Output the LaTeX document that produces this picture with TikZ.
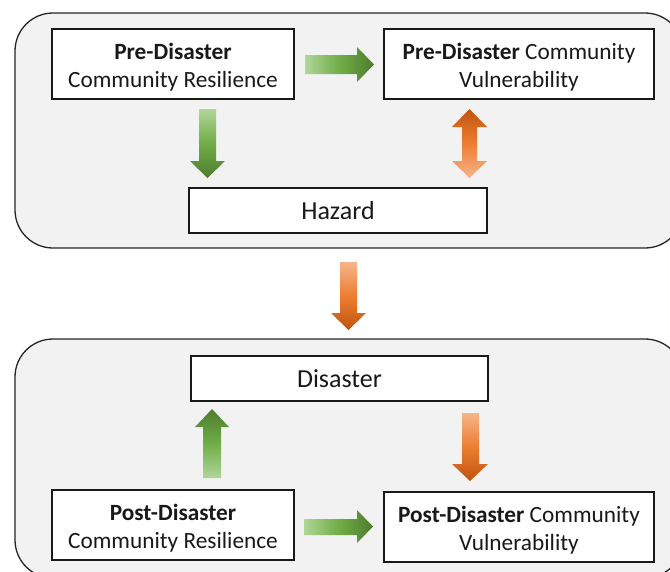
\documentclass[tikz,border=0pt]{standalone}
\usepackage{fontspec}
\setmainfont{Carlito}
\definecolor{gLight}{HTML}{B0D698}
\definecolor{gMid}{HTML}{70AD47}
\definecolor{gDark}{HTML}{4E7D2E}
\definecolor{oLight}{HTML}{F5B48A}
\definecolor{oMid}{HTML}{ED7D31}
\definecolor{oDark}{HTML}{C0540F}
\definecolor{panelfill}{HTML}{F2F2F2}
\newcommand\topstrut{\rule{0pt}{23pt}}
\tikzset{
  panel/.style={draw=black!85, line width=1.3pt, fill=panelfill, rounded corners=38pt},
  box/.style={draw=black!90, line width=1.5pt, fill=white, inner sep=0pt, align=center,
              font=\fontsize{23.3}{28}\selectfont, text=black!90},
  bigbox/.style={box, font=\fontsize{26}{30}\selectfont},
  gdown/.style={top color=gLight, bottom color=gDark, middle color=gMid},
  gup/.style={top color=gDark, bottom color=gLight, middle color=gMid},
  gright/.style={left color=gLight, right color=gDark, middle color=gMid},
  odown/.style={top color=oLight, bottom color=oDark, middle color=oMid},
  oup/.style={top color=oDark, bottom color=oLight, middle color=oMid},
}
\begin{document}
\begin{tikzpicture}[x=1pt,y=-1pt]
\clip (0,0) rectangle (670,571);
\fill[white] (0,0) rectangle (670,571);
% panels
\draw[panel] (15,13) rectangle (683,248);
\draw[panel] (15,339) rectangle (683,578);
% boxes
\node[box, minimum width=242pt, minimum height=70pt] (precr) at (173,64)
  {\topstrut\textbf{Pre-Disaster}\\Community Resilience};
\node[box, minimum width=270pt, minimum height=70pt] (precv) at (519,64)
  {\topstrut\textbf{Pre-Disaster} Community\\Vulnerability};
\node[bigbox, minimum width=298pt, minimum height=45pt] (hazard) at (338,210.5) {Hazard};
\node[bigbox, minimum width=297pt, minimum height=45pt] (disaster) at (339.5,378.5) {Disaster};
\node[box, minimum width=242pt, minimum height=70pt] (postcr) at (173,525)
  {\topstrut\textbf{Post-Disaster}\\Community Resilience};
\node[box, minimum width=270pt, minimum height=70pt] (postcv) at (519,527)
  {\topstrut\textbf{Post-Disaster} Community\\Vulnerability};
% block arrows
% top right (green)
\shade[gright] (305,55) -- (357,55) -- (357,47) -- (374,64.5) -- (357,82) -- (357,74) -- (305,74) -- cycle;
% top down (green)
\shade[gdown] (199,109) -- (216,109) -- (216,161) -- (225,161) -- (207.5,178) -- (190,161) -- (199,161) -- cycle;
% double arrow (orange)
\shade[oup] (469.5,109) -- (487,127) -- (477,127) -- (477,161) -- (487,161) -- (469.5,178) -- (452,161) -- (462,161) -- (462,127) -- (452,127) -- cycle;
% middle down (orange)
\shade[odown] (340,262) -- (357,262) -- (357,313) -- (366,313) -- (348.5,330) -- (331,313) -- (340,313) -- cycle;
% bottom up (green)
\shade[gup] (212,409) -- (229,427) -- (221,427) -- (221,478) -- (203,478) -- (203,427) -- (195,427) -- cycle;
% bottom down (orange)
\shade[odown] (462,413) -- (479,413) -- (479,464) -- (488,464) -- (470,481) -- (452,464) -- (462,464) -- cycle;
% bottom right (green)
\shade[gright] (304,519) -- (357,519) -- (357,510) -- (373,526.5) -- (357,543) -- (357,535) -- (304,535) -- cycle;
\end{tikzpicture}
\end{document}
